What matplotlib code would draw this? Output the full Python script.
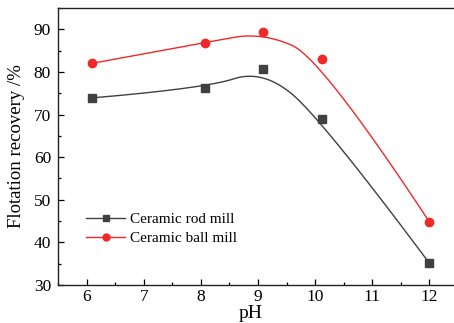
import numpy as np
import matplotlib
matplotlib.use("Agg")
import matplotlib.pyplot as plt
from matplotlib.ticker import MultipleLocator

ph_rod = [6.09, 8.07, 9.08, 10.12, 12.0]
rec_rod = [73.9, 76.15, 80.6, 68.9, 35.1]
ph_ball = [6.09, 8.07, 9.08, 10.12, 12.0]
rec_ball = [82.0, 86.9, 89.3, 83.1, 44.8]
labels = ["Ceramic rod mill", "Ceramic ball mill"]

def bspline(xs, ys, n=300, k=2):
    P = np.column_stack([xs, ys]).astype(float)
    m = len(P)
    inner = np.linspace(0, 1, m - k + 1)[1:-1]
    t = np.concatenate([np.zeros(k + 1), inner, np.ones(k + 1)])
    u = np.linspace(0, 1, n)
    out = []
    for uu in u:
        if uu >= 1.0:
            s = m - 1
        else:
            s = np.searchsorted(t, uu, side='right') - 1
        d = [P[j].copy() for j in range(s - k, s + 1)]
        for r in range(1, k + 1):
            for j in range(k, r - 1, -1):
                i = j + s - k
                denom = t[i + k + 1 - r] - t[i]
                a = 0 if denom == 0 else (uu - t[i]) / denom
                d[j] = (1 - a) * d[j - 1] + a * d[j]
        out.append(d[k])
    out = np.array(out)
    return out[:, 0], out[:, 1]

plt.rcParams['font.family'] = ['Liberation Serif', 'DejaVu Serif']
fig = plt.figure(figsize=(4.54, 3.23), dpi=100)
ax = fig.add_axes([58/454, 38/323, 400/454, 277/323])

c_rod = '#404040'
c_ball = '#f02828'
xr, yr = bspline(ph_rod, rec_rod)
xb, yb = bspline(ph_ball, rec_ball)
ax.plot(xr, yr, color=c_rod, lw=1.0)
ax.plot(xb, yb, color=c_ball, lw=1.0)
ax.plot(ph_rod, rec_rod, 's', color=c_rod, ms=5.5, ls='none')
ax.plot(ph_ball, rec_ball, 'o', color=c_ball, ms=6, ls='none')
ax.plot([], [], '-s', color=c_rod, ms=4.5, lw=1.0, label=labels[0])
ax.plot([], [], '-o', color=c_ball, ms=5, lw=1.0, label=labels[1])
handles, labs = ax.get_legend_handles_labels()
ax.legend(handles, labs, loc='upper left', bbox_to_anchor=(0.05, 0.29),
          frameon=False, fontsize=11, handlelength=2.6, handletextpad=0.3,
          labelspacing=0.35, borderpad=0)

ax.set_xlim(5.5, 12.5)
ax.set_ylim(30, 95)
ax.xaxis.set_major_locator(MultipleLocator(1))
ax.xaxis.set_minor_locator(MultipleLocator(0.5))
ax.yaxis.set_major_locator(MultipleLocator(10))
ax.yaxis.set_minor_locator(MultipleLocator(5))
ax.tick_params(which='both', direction='in', top=False, right=False, labelsize=12.5)
ax.tick_params(which='major', length=4, width=0.9)
ax.tick_params(which='minor', length=2.5, width=0.9)
ax.tick_params(axis='y', pad=5)
ax.tick_params(axis='x', pad=3)
for s in ax.spines.values():
    s.set_linewidth(1.0)
    s.set_color('#222222')
ax.set_ylabel('Flotation recovery /%', fontsize=13.5)
ax.yaxis.set_label_coords(-0.082, 0.5)
ax.set_xlabel('pH', fontsize=14)
ax.xaxis.set_label_coords(0.4825, -0.072)

fig.savefig('out.png', dpi=100)
